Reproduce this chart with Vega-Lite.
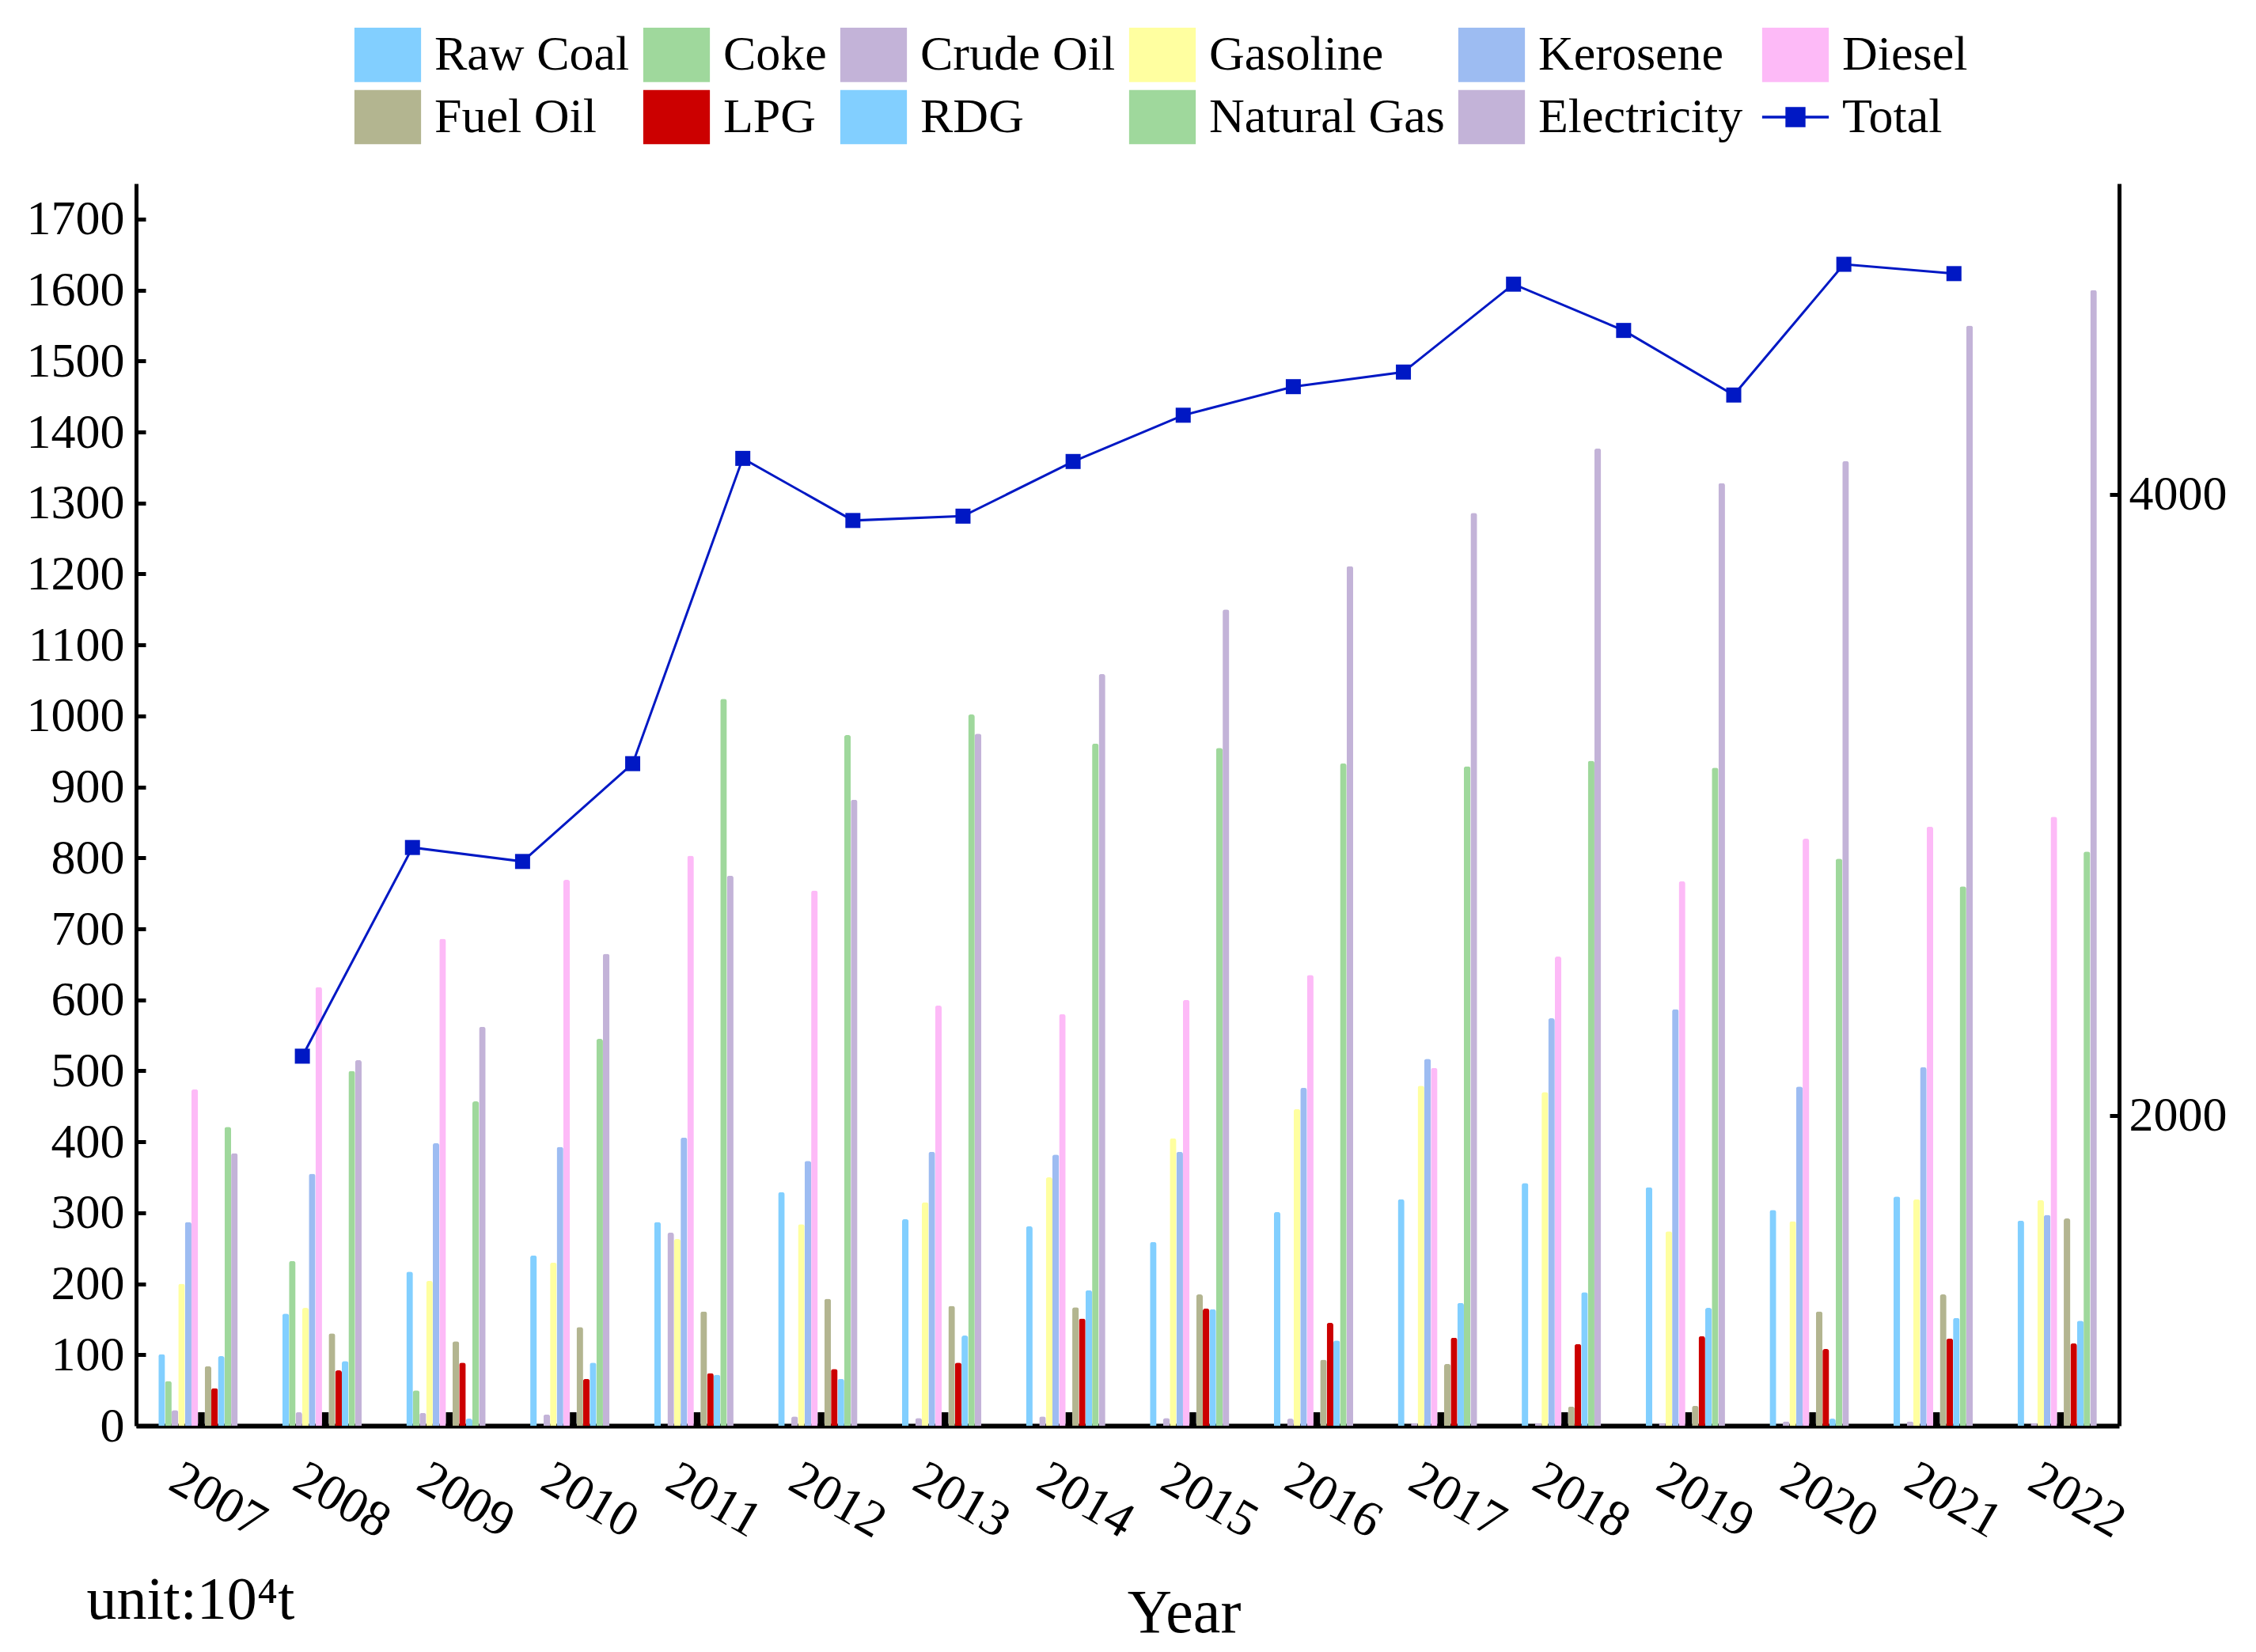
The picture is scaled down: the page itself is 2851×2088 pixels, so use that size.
{
  "$schema": "https://vega.github.io/schema/vega-lite/v6.json",
  "width": 2506,
  "height": 1570,
  "autosize": {"type": "none"},
  "padding": {"left": 172, "top": 232, "right": 173, "bottom": 286},
  "background": "white",
  "config": {
    "font": "Liberation Serif",
    "view": {"stroke": null},
    "axis": {"grid": false, "domainColor": "black", "tickColor": "black", "labelColor": "black", "titleColor": "black", "labelFont": "Liberation Serif", "titleFont": "Liberation Serif", "titleFontWeight": "normal"}
  },
  "datasets": {
    "bars": [
      {"Year": "2007", "Fuel": "Raw Coal", "Value": 101}, {"Year": "2007", "Fuel": "Coke", "Value": 63}, {"Year": "2007", "Fuel": "Crude Oil", "Value": 22}, {"Year": "2007", "Fuel": "Gasoline", "Value": 200}, {"Year": "2007", "Fuel": "Kerosene", "Value": 287}, {"Year": "2007", "Fuel": "Diesel", "Value": 474}, {"Year": "2007", "Fuel": "Other", "Value": 19}, {"Year": "2007", "Fuel": "Fuel Oil", "Value": 84}, {"Year": "2007", "Fuel": "LPG", "Value": 53}, {"Year": "2007", "Fuel": "RDG", "Value": 98}, {"Year": "2007", "Fuel": "Natural Gas", "Value": 421}, {"Year": "2007", "Fuel": "Electricity", "Value": 384},
      {"Year": "2008", "Fuel": "Raw Coal", "Value": 158}, {"Year": "2008", "Fuel": "Coke", "Value": 232}, {"Year": "2008", "Fuel": "Crude Oil", "Value": 19}, {"Year": "2008", "Fuel": "Gasoline", "Value": 166}, {"Year": "2008", "Fuel": "Kerosene", "Value": 355}, {"Year": "2008", "Fuel": "Diesel", "Value": 618}, {"Year": "2008", "Fuel": "Other", "Value": 19}, {"Year": "2008", "Fuel": "Fuel Oil", "Value": 130}, {"Year": "2008", "Fuel": "LPG", "Value": 78}, {"Year": "2008", "Fuel": "RDG", "Value": 91}, {"Year": "2008", "Fuel": "Natural Gas", "Value": 500}, {"Year": "2008", "Fuel": "Electricity", "Value": 515},
      {"Year": "2009", "Fuel": "Raw Coal", "Value": 217}, {"Year": "2009", "Fuel": "Coke", "Value": 50}, {"Year": "2009", "Fuel": "Crude Oil", "Value": 18}, {"Year": "2009", "Fuel": "Gasoline", "Value": 204}, {"Year": "2009", "Fuel": "Kerosene", "Value": 398}, {"Year": "2009", "Fuel": "Diesel", "Value": 686}, {"Year": "2009", "Fuel": "Other", "Value": 19}, {"Year": "2009", "Fuel": "Fuel Oil", "Value": 119}, {"Year": "2009", "Fuel": "LPG", "Value": 89}, {"Year": "2009", "Fuel": "RDG", "Value": 10}, {"Year": "2009", "Fuel": "Natural Gas", "Value": 457}, {"Year": "2009", "Fuel": "Electricity", "Value": 562},
      {"Year": "2010", "Fuel": "Raw Coal", "Value": 240}, {"Year": "2010", "Fuel": "Coke", "Value": 0}, {"Year": "2010", "Fuel": "Crude Oil", "Value": 16}, {"Year": "2010", "Fuel": "Gasoline", "Value": 230}, {"Year": "2010", "Fuel": "Kerosene", "Value": 393}, {"Year": "2010", "Fuel": "Diesel", "Value": 769}, {"Year": "2010", "Fuel": "Other", "Value": 19}, {"Year": "2010", "Fuel": "Fuel Oil", "Value": 139}, {"Year": "2010", "Fuel": "LPG", "Value": 66}, {"Year": "2010", "Fuel": "RDG", "Value": 89}, {"Year": "2010", "Fuel": "Natural Gas", "Value": 545}, {"Year": "2010", "Fuel": "Electricity", "Value": 665},
      {"Year": "2011", "Fuel": "Raw Coal", "Value": 287}, {"Year": "2011", "Fuel": "Coke", "Value": 0}, {"Year": "2011", "Fuel": "Crude Oil", "Value": 272}, {"Year": "2011", "Fuel": "Gasoline", "Value": 263}, {"Year": "2011", "Fuel": "Kerosene", "Value": 406}, {"Year": "2011", "Fuel": "Diesel", "Value": 803}, {"Year": "2011", "Fuel": "Other", "Value": 19}, {"Year": "2011", "Fuel": "Fuel Oil", "Value": 161}, {"Year": "2011", "Fuel": "LPG", "Value": 74}, {"Year": "2011", "Fuel": "RDG", "Value": 72}, {"Year": "2011", "Fuel": "Natural Gas", "Value": 1024}, {"Year": "2011", "Fuel": "Electricity", "Value": 775},
      {"Year": "2012", "Fuel": "Raw Coal", "Value": 329}, {"Year": "2012", "Fuel": "Coke", "Value": 0}, {"Year": "2012", "Fuel": "Crude Oil", "Value": 13}, {"Year": "2012", "Fuel": "Gasoline", "Value": 284}, {"Year": "2012", "Fuel": "Kerosene", "Value": 373}, {"Year": "2012", "Fuel": "Diesel", "Value": 754}, {"Year": "2012", "Fuel": "Other", "Value": 19}, {"Year": "2012", "Fuel": "Fuel Oil", "Value": 179}, {"Year": "2012", "Fuel": "LPG", "Value": 80}, {"Year": "2012", "Fuel": "RDG", "Value": 66}, {"Year": "2012", "Fuel": "Natural Gas", "Value": 973}, {"Year": "2012", "Fuel": "Electricity", "Value": 882},
      {"Year": "2013", "Fuel": "Raw Coal", "Value": 291}, {"Year": "2013", "Fuel": "Coke", "Value": 0}, {"Year": "2013", "Fuel": "Crude Oil", "Value": 11}, {"Year": "2013", "Fuel": "Gasoline", "Value": 315}, {"Year": "2013", "Fuel": "Kerosene", "Value": 386}, {"Year": "2013", "Fuel": "Diesel", "Value": 592}, {"Year": "2013", "Fuel": "Other", "Value": 19}, {"Year": "2013", "Fuel": "Fuel Oil", "Value": 169}, {"Year": "2013", "Fuel": "LPG", "Value": 89}, {"Year": "2013", "Fuel": "RDG", "Value": 127}, {"Year": "2013", "Fuel": "Natural Gas", "Value": 1002}, {"Year": "2013", "Fuel": "Electricity", "Value": 975},
      {"Year": "2014", "Fuel": "Raw Coal", "Value": 281}, {"Year": "2014", "Fuel": "Coke", "Value": 0}, {"Year": "2014", "Fuel": "Crude Oil", "Value": 13}, {"Year": "2014", "Fuel": "Gasoline", "Value": 350}, {"Year": "2014", "Fuel": "Kerosene", "Value": 382}, {"Year": "2014", "Fuel": "Diesel", "Value": 580}, {"Year": "2014", "Fuel": "Other", "Value": 19}, {"Year": "2014", "Fuel": "Fuel Oil", "Value": 167}, {"Year": "2014", "Fuel": "LPG", "Value": 151}, {"Year": "2014", "Fuel": "RDG", "Value": 191}, {"Year": "2014", "Fuel": "Natural Gas", "Value": 961}, {"Year": "2014", "Fuel": "Electricity", "Value": 1059},
      {"Year": "2015", "Fuel": "Raw Coal", "Value": 259}, {"Year": "2015", "Fuel": "Coke", "Value": 0}, {"Year": "2015", "Fuel": "Crude Oil", "Value": 11}, {"Year": "2015", "Fuel": "Gasoline", "Value": 405}, {"Year": "2015", "Fuel": "Kerosene", "Value": 386}, {"Year": "2015", "Fuel": "Diesel", "Value": 600}, {"Year": "2015", "Fuel": "Other", "Value": 19}, {"Year": "2015", "Fuel": "Fuel Oil", "Value": 185}, {"Year": "2015", "Fuel": "LPG", "Value": 165}, {"Year": "2015", "Fuel": "RDG", "Value": 164}, {"Year": "2015", "Fuel": "Natural Gas", "Value": 955}, {"Year": "2015", "Fuel": "Electricity", "Value": 1150},
      {"Year": "2016", "Fuel": "Raw Coal", "Value": 301}, {"Year": "2016", "Fuel": "Coke", "Value": 0}, {"Year": "2016", "Fuel": "Crude Oil", "Value": 10}, {"Year": "2016", "Fuel": "Gasoline", "Value": 446}, {"Year": "2016", "Fuel": "Kerosene", "Value": 476}, {"Year": "2016", "Fuel": "Diesel", "Value": 635}, {"Year": "2016", "Fuel": "Other", "Value": 19}, {"Year": "2016", "Fuel": "Fuel Oil", "Value": 93}, {"Year": "2016", "Fuel": "LPG", "Value": 145}, {"Year": "2016", "Fuel": "RDG", "Value": 120}, {"Year": "2016", "Fuel": "Natural Gas", "Value": 933}, {"Year": "2016", "Fuel": "Electricity", "Value": 1211},
      {"Year": "2017", "Fuel": "Raw Coal", "Value": 319}, {"Year": "2017", "Fuel": "Coke", "Value": 0}, {"Year": "2017", "Fuel": "Crude Oil", "Value": 4}, {"Year": "2017", "Fuel": "Gasoline", "Value": 479}, {"Year": "2017", "Fuel": "Kerosene", "Value": 517}, {"Year": "2017", "Fuel": "Diesel", "Value": 504}, {"Year": "2017", "Fuel": "Other", "Value": 19}, {"Year": "2017", "Fuel": "Fuel Oil", "Value": 87}, {"Year": "2017", "Fuel": "LPG", "Value": 124}, {"Year": "2017", "Fuel": "RDG", "Value": 173}, {"Year": "2017", "Fuel": "Natural Gas", "Value": 929}, {"Year": "2017", "Fuel": "Electricity", "Value": 1286},
      {"Year": "2018", "Fuel": "Raw Coal", "Value": 342}, {"Year": "2018", "Fuel": "Coke", "Value": 0}, {"Year": "2018", "Fuel": "Crude Oil", "Value": 4}, {"Year": "2018", "Fuel": "Gasoline", "Value": 470}, {"Year": "2018", "Fuel": "Kerosene", "Value": 574}, {"Year": "2018", "Fuel": "Diesel", "Value": 661}, {"Year": "2018", "Fuel": "Other", "Value": 19}, {"Year": "2018", "Fuel": "Fuel Oil", "Value": 27}, {"Year": "2018", "Fuel": "LPG", "Value": 115}, {"Year": "2018", "Fuel": "RDG", "Value": 188}, {"Year": "2018", "Fuel": "Natural Gas", "Value": 937}, {"Year": "2018", "Fuel": "Electricity", "Value": 1377},
      {"Year": "2019", "Fuel": "Raw Coal", "Value": 336}, {"Year": "2019", "Fuel": "Coke", "Value": 0}, {"Year": "2019", "Fuel": "Crude Oil", "Value": 4}, {"Year": "2019", "Fuel": "Gasoline", "Value": 274}, {"Year": "2019", "Fuel": "Kerosene", "Value": 587}, {"Year": "2019", "Fuel": "Diesel", "Value": 767}, {"Year": "2019", "Fuel": "Other", "Value": 19}, {"Year": "2019", "Fuel": "Fuel Oil", "Value": 28}, {"Year": "2019", "Fuel": "LPG", "Value": 126}, {"Year": "2019", "Fuel": "RDG", "Value": 166}, {"Year": "2019", "Fuel": "Natural Gas", "Value": 927}, {"Year": "2019", "Fuel": "Electricity", "Value": 1328},
      {"Year": "2020", "Fuel": "Raw Coal", "Value": 304}, {"Year": "2020", "Fuel": "Coke", "Value": 0}, {"Year": "2020", "Fuel": "Crude Oil", "Value": 6}, {"Year": "2020", "Fuel": "Gasoline", "Value": 288}, {"Year": "2020", "Fuel": "Kerosene", "Value": 478}, {"Year": "2020", "Fuel": "Diesel", "Value": 827}, {"Year": "2020", "Fuel": "Other", "Value": 19}, {"Year": "2020", "Fuel": "Fuel Oil", "Value": 161}, {"Year": "2020", "Fuel": "LPG", "Value": 108}, {"Year": "2020", "Fuel": "RDG", "Value": 10}, {"Year": "2020", "Fuel": "Natural Gas", "Value": 799}, {"Year": "2020", "Fuel": "Electricity", "Value": 1359},
      {"Year": "2021", "Fuel": "Raw Coal", "Value": 323}, {"Year": "2021", "Fuel": "Coke", "Value": 0}, {"Year": "2021", "Fuel": "Crude Oil", "Value": 6}, {"Year": "2021", "Fuel": "Gasoline", "Value": 319}, {"Year": "2021", "Fuel": "Kerosene", "Value": 505}, {"Year": "2021", "Fuel": "Diesel", "Value": 844}, {"Year": "2021", "Fuel": "Other", "Value": 19}, {"Year": "2021", "Fuel": "Fuel Oil", "Value": 185}, {"Year": "2021", "Fuel": "LPG", "Value": 123}, {"Year": "2021", "Fuel": "RDG", "Value": 152}, {"Year": "2021", "Fuel": "Natural Gas", "Value": 760}, {"Year": "2021", "Fuel": "Electricity", "Value": 1550},
      {"Year": "2022", "Fuel": "Raw Coal", "Value": 289}, {"Year": "2022", "Fuel": "Coke", "Value": 0}, {"Year": "2022", "Fuel": "Crude Oil", "Value": 4}, {"Year": "2022", "Fuel": "Gasoline", "Value": 318}, {"Year": "2022", "Fuel": "Kerosene", "Value": 297}, {"Year": "2022", "Fuel": "Diesel", "Value": 858}, {"Year": "2022", "Fuel": "Other", "Value": 19}, {"Year": "2022", "Fuel": "Fuel Oil", "Value": 292}, {"Year": "2022", "Fuel": "LPG", "Value": 116}, {"Year": "2022", "Fuel": "RDG", "Value": 148}, {"Year": "2022", "Fuel": "Natural Gas", "Value": 809}, {"Year": "2022", "Fuel": "Electricity", "Value": 1600}
    ],
    "total": [
      {"Year": 2007, "Total": 2190}, {"Year": 2008, "Total": 2862}, {"Year": 2009, "Total": 2817}, {"Year": 2010, "Total": 3132},
      {"Year": 2011, "Total": 4115}, {"Year": 2012, "Total": 3915}, {"Year": 2013, "Total": 3929}, {"Year": 2014, "Total": 4105},
      {"Year": 2015, "Total": 4254}, {"Year": 2016, "Total": 4346}, {"Year": 2017, "Total": 4393}, {"Year": 2018, "Total": 4676},
      {"Year": 2019, "Total": 4527}, {"Year": 2020, "Total": 4319}, {"Year": 2021, "Total": 4740}, {"Year": 2022, "Total": 4710}
    ]
  },
  "layer": [
    {
      "data": {"name": "bars"},
      "encoding": {
        "x": {
          "field": "Year", "type": "ordinal",
          "scale": {"paddingInner": 0.36, "paddingOuter": 0.18},
          "axis": {
            "title": "Year", "titleFontSize": 78, "titleX": 1324, "titleY": 260, "titleAlign": "center", "titleBaseline": "alphabetic",
            "domainWidth": 6, "ticks": false, "labelAngle": 30, "labelAlign": "center", "labelBaseline": "middle",
            "labelPadding": 94, "labelOffset": 25, "labelFontSize": 64, "labelOverlap": false, "labelBound": false, "labelFlush": false
          }
        },
        "xOffset": {
          "field": "Fuel", "type": "nominal",
          "scale": {"domain": ["Raw Coal", "Coke", "Crude Oil", "Gasoline", "Kerosene", "Diesel", "Other", "Fuel Oil", "LPG", "RDG", "Natural Gas", "Electricity"], "paddingInner": 0, "paddingOuter": 0}
        },
        "y": {
          "field": "Value", "type": "quantitative",
          "scale": {"domain": [0, 1750], "nice": false},
          "axis": {
            "title": "unit:10⁴t", "titleAngle": 0, "titleX": -63, "titleY": 1813, "titleAlign": "left", "titleBaseline": "alphabetic", "titleFontSize": 76,
            "values": [0, 100, 200, 300, 400, 500, 600, 700, 800, 900, 1000, 1100, 1200, 1300, 1400, 1500, 1600, 1700], "format": "d",
            "domainWidth": 5, "tickWidth": 5, "tickSize": -12, "labelPadding": 27, "labelFontSize": 62
          }
        }
      },
      "layer": [
        {
          "transform": [{"filter": "datum.Fuel !== 'Other'"}],
          "mark": {"type": "bar", "cornerRadiusTopLeft": 3, "cornerRadiusTopRight": 3},
          "encoding": {
            "color": {
              "field": "Fuel", "type": "nominal",
              "scale": {
                "domain": ["Raw Coal", "Coke", "Crude Oil", "Gasoline", "Kerosene", "Diesel", "Fuel Oil", "LPG", "RDG", "Natural Gas", "Electricity", "Total"],
                "range": ["#82CFFF", "#9FD89C", "#C3B3D8", "#FFFFA0", "#9DBCF2", "#FDBAF7", "#B3B590", "#CC0000", "#82CFFF", "#9FD89C", "#C3B3D8", "#0018C4"]
              },
              "legend": {
                "title": null, "orient": "none", "legendX": 287, "legendY": -194, "direction": "horizontal", "columns": 6,
                "padding": 0, "columnPadding": 16, "rowPadding": 9, "symbolSize": 6084, "labelOffset": 28,
                "labelFont": "Liberation Serif", "labelFontSize": 62, "labelColor": "black", "labelLimit": 1000,
                "encode": {
                  "symbols": {
                    "update": {
                      "shape": {"signal": "datum.value === 'Total' ? 'M-1.08,0H1.08M-0.28,-0.28H0.28V0.28H-0.28Z' : 'M-1.08,-0.88H1.08V0.88H-1.08Z'"},
                      "fill": {"scale": "color", "field": "value"},
                      "stroke": {"scale": "color", "field": "value"},
                      "strokeWidth": {"signal": "datum.value === 'Total' ? 3.5 : 0"},
                      "opacity": {"value": 1}
                    }
                  }
                }
              }
            }
          }
        },
        {
          "transform": [{"filter": "datum.Fuel === 'Other'"}],
          "mark": {"type": "bar", "color": "black"},
          "encoding": {}
        }
      ]
    },
    {
      "data": {"name": "total"},
      "mark": {"type": "line", "color": "#0018C4", "strokeWidth": 3, "point": {"shape": "square", "size": 361, "filled": true, "color": "#0018C4"}},
      "encoding": {
        "x": {"field": "Year", "type": "quantitative", "scale": {"domain": [2005.49, 2023.5], "nice": false, "zero": false}, "axis": null},
        "y": {
          "field": "Total", "type": "quantitative",
          "scale": {"domain": [1000, 5000], "nice": false, "zero": false},
          "axis": {"orient": "right", "title": null, "values": [2000, 4000], "format": "d", "domainWidth": 5, "tickWidth": 5, "tickSize": -12, "labelPadding": 24, "labelFontSize": 62}
        }
      }
    }
  ],
  "resolve": {"scale": {"x": "independent", "y": "independent"}}
}
